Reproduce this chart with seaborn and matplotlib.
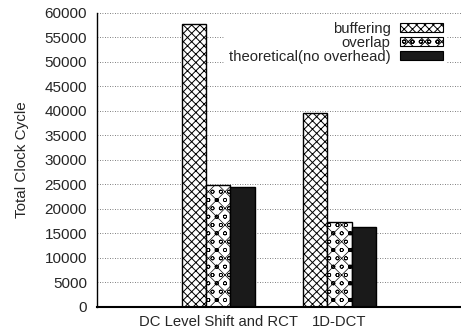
import matplotlib
matplotlib.use("Agg")
import matplotlib.pyplot as plt
import seaborn as sns
import pandas as pd
from matplotlib.patches import Patch

categories = ["DC Level Shift and RCT", "1D-DCT"]
series = ["buffering", "overlap", "theoretical(no overhead)"]
buffering = [57800, 39500]
overlap = [24800, 17300]
theoretical = [24500, 16400]
yticks = list(range(0, 60001, 5000))

rows = []
for name, vals in zip(series, [buffering, overlap, theoretical]):
    for c, v in zip(categories, vals):
        rows.append({"category": c, "series": name, "value": v})
df = pd.DataFrame(rows)

sns.set_theme(style="white")
plt.rcParams["font.family"] = ["Liberation Sans", "DejaVu Sans"]
plt.rcParams["hatch.linewidth"] = 0.7

fig = plt.figure(figsize=(4.61, 3.30), dpi=100)
ax = fig.add_axes([0.210, 0.070, 0.790, 0.891])

ax.set_axisbelow(True)
ax.yaxis.grid(True, color="#555555", linestyle=(0, (1, 2)), linewidth=0.6)
ax.xaxis.grid(True, color="#555555", linestyle=(0, (1, 2)), linewidth=0.6)

sns.barplot(data=df, x="category", y="value", hue="series", order=categories,
            hue_order=series, width=0.6, dodge=True, ax=ax, legend=False,
            edgecolor="black", linewidth=1.0)

facecolors = ["white", "white", "#1a1a1a"]
hatches = ["xxxx", "ooxx", ""]
hatch_lw = [0.7, 0.5, 0.7]
for container, fc, h, hl in zip(ax.containers, facecolors, hatches, hatch_lw):
    for bar in container:
        bar.set_facecolor(fc)
        bar.set_hatch(h)
        bar.set_edgecolor("black")
        try:
            bar.set_hatch_linewidth(hl)
        except AttributeError:
            pass

ax.set_xlim(-1.0, 2.0)
ax.set_ylim(0, 60000)
ax.set_yticks(yticks)
ax.set_yticklabels([str(t) for t in yticks], fontsize=11)
ax.tick_params(axis="y", direction="in", length=5, width=1, color="black", pad=7)
ax.tick_params(axis="x", length=0, labelsize=10.7, pad=6)
ax.set_xlabel("")
ax.set_ylabel("Total Clock Cycle", fontsize=11, labelpad=11)

for s in ["top", "right"]:
    ax.spines[s].set_visible(False)
ax.spines["left"].set_color("black")
ax.spines["left"].set_linewidth(1.0)
ax.spines["bottom"].set_color("black")
ax.spines["bottom"].set_linewidth(1.5)

handles = [Patch(facecolor=fc, edgecolor="black", hatch=h, linewidth=0.8)
           for fc, h in zip(facecolors, hatches)]
leg = ax.legend(handles, series, loc="upper right", bbox_to_anchor=(0.962, 0.985),
                markerfirst=False, frameon=True, facecolor="white", edgecolor="none",
                framealpha=1.0, fontsize=10.7, handlelength=2.9, handleheight=0.5,
                handletextpad=0.6, labelspacing=0.0, borderpad=0.3,
                borderaxespad=0.0, fancybox=False)
for t in leg.get_texts():
    t.set_ha("right")

fig.savefig("out.png", dpi=100)
